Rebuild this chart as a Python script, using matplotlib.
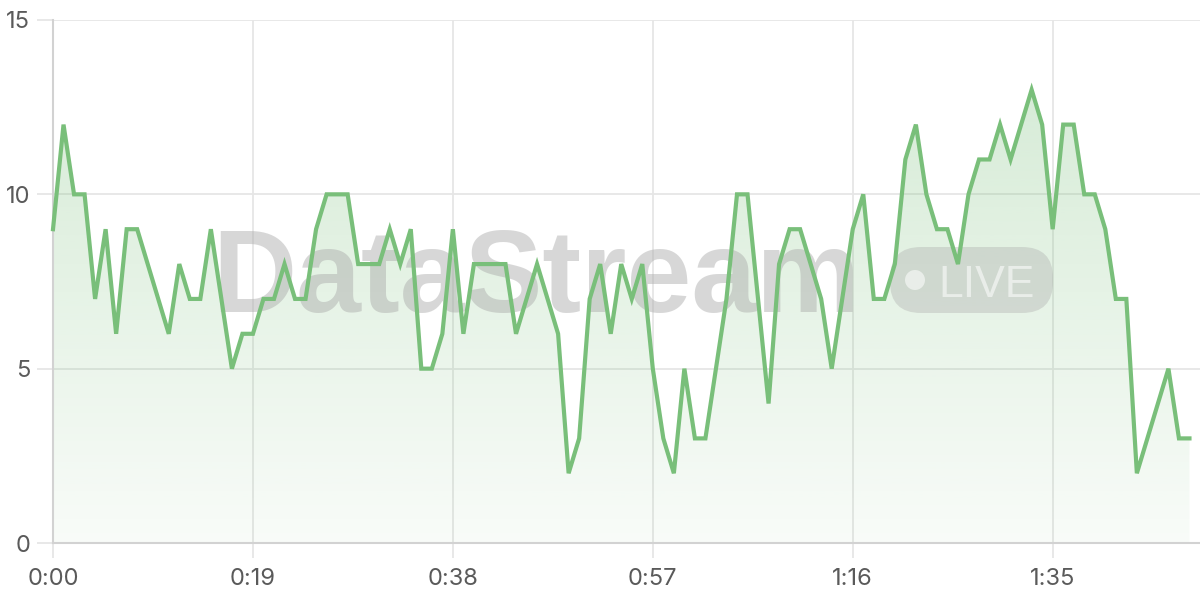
import matplotlib.pyplot as plt
import numpy as np
from matplotlib.patches import FancyBboxPatch, Circle
from matplotlib.ticker import FixedLocator

# one reading per second
values = [9, 12, 10, 10, 7, 9, 6, 9, 9, 8,
          7, 6, 8, 7, 7, 9, 7, 5, 6, 6,
          7, 7, 8, 7, 7, 9, 10, 10, 10, 8,
          8, 8, 9, 8, 9, 5, 5, 6, 9, 6,
          8, 8, 8, 8, 6, 7, 8, 7, 6, 2,
          3, 7, 8, 6, 8, 7, 8, 5, 3, 2,
          5, 3, 3, 5, 7, 10, 10, 7, 4, 8,
          9, 9, 8, 7, 5, 7, 9, 10, 7, 7,
          8, 11, 12, 10, 9, 9, 8, 10, 11, 11,
          12, 11, 12, 13, 12, 9, 12, 12, 10, 10,
          9, 7, 7, 2, 3, 4, 5, 3, 3]
seconds = list(range(len(values)))

x_ticks = [0, 19, 38, 57, 76, 95]
x_labels = ["0:00", "0:19", "0:38", "0:57", "1:16", "1:35"]
y_ticks = [0, 5, 10, 15]

line_color = "#79bf7a"
grid_color = "#e6e6e6"
label_color = "#5a5a5a"

fig = plt.figure(figsize=(12, 6), dpi=100)
ax = fig.add_axes([53 / 1200, 57 / 600, 1147 / 1200, 523 / 600])

# grid + axes styling
ax.xaxis.set_major_locator(FixedLocator(x_ticks))
ax.set_xticklabels(x_labels)
ax.set_yticks(y_ticks)
ax.grid(True, color=grid_color, linewidth=1.3, zorder=0)
ax.set_axisbelow(True)
for side in ["top", "right"]:
    ax.spines[side].set_visible(False)
for side in ["left", "bottom"]:
    ax.spines[side].set_color("#d2d2d2")
    ax.spines[side].set_linewidth(1.5)
ax.tick_params(axis="both", color=grid_color, width=1.3, labelcolor=label_color,
               labelsize=17)
ax.tick_params(axis="x", length=11, pad=7)
ax.tick_params(axis="y", length=11.5, pad=5)
for lab in ax.get_xticklabels() + ax.get_yticklabels():
    lab.set_fontfamily(["Inter", "DejaVu Sans"])

# gradient fill under the line
top = max(values)
poly = ax.fill_between(seconds, values, 0, color="none", zorder=1)
grad = np.zeros((256, 1, 4))
grad[:, 0, 0] = 121 / 255
grad[:, 0, 1] = 191 / 255
grad[:, 0, 2] = 122 / 255
grad[:, 0, 3] = np.linspace(0.3, 0.05, 256)
img = ax.imshow(grad, extent=[seconds[0], seconds[-1], 0, top], origin="upper",
                aspect="auto", zorder=1)
img.set_clip_path(poly.get_paths()[0], transform=ax.transData)
ax.set_xlim(0, 109)
ax.set_ylim(0, 15)

# watermark (inches from bottom-left of figure)
tr = fig.dpi_scale_trans
ax.text(2.12, 2.88, "DataStream", transform=tr, fontsize=84, fontweight="bold",
        family=["Liberation Sans", "DejaVu Sans"], color="#a8a8a8", alpha=0.45,
        va="baseline", ha="left", zorder=2, clip_on=False)
ax.add_patch(FancyBboxPatch((8.90, 2.87), 1.63, 0.66,
                            boxstyle="round,pad=0,rounding_size=0.31",
                            transform=tr, facecolor="#a8a8a8", alpha=0.35,
                            edgecolor="none", zorder=2, clip_on=False))
ax.add_patch(Circle((9.15, 3.20), 0.10, transform=tr, facecolor="white",
                    alpha=0.55, edgecolor="none", zorder=2, clip_on=False))
ax.text(9.38, 3.03, "LIVE", transform=tr, fontsize=32,
        family=["Liberation Sans", "DejaVu Sans"], color="white", alpha=0.55,
        va="baseline", ha="left", zorder=2, clip_on=False)

ax.plot(seconds, values, color=line_color, linewidth=3, zorder=3,
        solid_joinstyle="miter", clip_on=False)

fig.savefig("out.png", dpi=100)
